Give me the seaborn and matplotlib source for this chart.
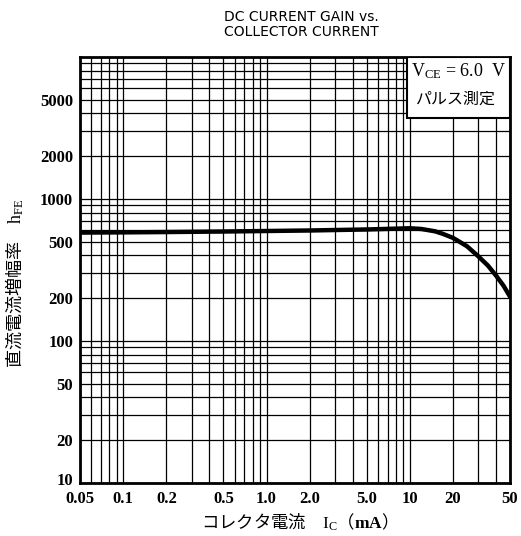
import numpy as np
import pandas as pd
import matplotlib
matplotlib.use('Agg')
import matplotlib.pyplot as plt
import matplotlib.transforms as mtrans
import seaborn as sns
from matplotlib.patches import Rectangle
from matplotlib.ticker import LogLocator, NullFormatter

# data
ic_ma = [0.05, 0.1, 0.2, 0.5, 1.0, 2.0, 5.0, 10, 12, 15, 17, 20, 25, 30, 35, 40, 45, 50]
hfe = [580, 582, 585, 590, 595, 600, 610, 622, 615, 592, 568, 532, 465, 395, 340, 288, 245, 205]

xtick_vals = [0.05, 0.1, 0.2, 0.5, 1.0, 2.0, 5.0, 10, 20, 50]
xtick_text = ['0.05', '0.1', '0.2', '0.5', '1.0', '2.0', '5.0', '10', '20', '50']
ytick_vals = [10, 20, 50, 100, 200, 500, 1000, 2000, 5000]
ytick_text = ['10', '20', '50', '100', '200', '500', '1000', '2000', '5000']

df = pd.DataFrame({'ic': ic_ma, 'hfe': hfe})

sns.set_style('white')
plt.rcParams['font.family'] = ['Noto Sans CJK JP', 'DejaVu Sans']
plt.rcParams['text.color'] = 'black'
plt.rcParams['axes.labelcolor'] = 'black'
plt.rcParams['xtick.color'] = 'black'
plt.rcParams['ytick.color'] = 'black'
plt.rcParams['mathtext.fontset'] = 'custom'
plt.rcParams['mathtext.rm'] = 'Liberation Serif'
plt.rcParams['mathtext.it'] = 'Liberation Serif:italic'
plt.rcParams['mathtext.bf'] = 'Liberation Serif:bold'

fig = plt.figure(figsize=(5.21, 5.36), dpi=100)
ax = fig.add_axes([0.1536, 0.0989, 0.8254, 0.7948])

sns.lineplot(data=df, x='ic', y='hfe', color='black', linewidth=3.2, ax=ax, zorder=5)

ax.set_xscale('log')
ax.set_yscale('log')
ax.set_xlim(0.05, 50)
ax.set_ylim(10, 10000)

ax.xaxis.set_minor_locator(LogLocator(base=10, subs=np.arange(2, 10)))
ax.yaxis.set_minor_locator(LogLocator(base=10, subs=np.arange(2, 10)))
ax.xaxis.set_minor_formatter(NullFormatter())
ax.yaxis.set_minor_formatter(NullFormatter())
ax.grid(which='both', color='black', linewidth=0.9)

ax.set_xticks(xtick_vals)
ax.set_xticklabels(xtick_text, family='Liberation Serif', fontweight='bold', fontsize=12)
ax.set_yticks(ytick_vals)
ax.set_yticklabels(ytick_text, family='Liberation Serif', fontweight='bold', fontsize=12)
ax.tick_params(axis='y', which='both', length=0, pad=5)
ax.tick_params(axis='x', which='both', length=0, pad=6)
# nudge the corner label "10" up a few pixels, like the reference
lab10 = ax.get_yticklabels()[0]
lab10.set_transform(lab10.get_transform() + mtrans.ScaledTranslation(0, 3 / 72, fig.dpi_scale_trans))

for sp in ax.spines.values():
    sp.set_visible(True)
    sp.set_color('black')
    sp.set_linewidth(2)

ax.set_xlabel('コレクタ電流　$\\mathrm{I_C}$（$\\mathbf{mA}$）', fontsize=12.5)
ax.xaxis.set_label_coords(0.5, -0.068)
ax.set_ylabel('直流電流増幅率　$\\mathrm{h_{FE}}$', fontsize=13)
ax.yaxis.set_label_coords(-0.125, 0.47)

# conditions box in the upper right corner
box = Rectangle((0.76, 0.857), 0.24, 0.143, transform=ax.transAxes,
                facecolor='white', edgecolor='black', linewidth=1.5, zorder=6)
ax.add_patch(box)
ax.text(0.88, 0.966, '$\\mathrm{V_{CE}}$ = 6.0  V', transform=ax.transAxes,
        ha='center', va='center', family='Liberation Serif', fontsize=13, zorder=7)
ax.text(0.875, 0.902, 'パルス測定', transform=ax.transAxes,
        ha='center', va='center', fontsize=11.5, zorder=7)

fig.text(0.578, 0.955, 'DC CURRENT GAIN vs.\nCOLLECTOR CURRENT', ha='center', va='center',
         family='DejaVu Sans', fontsize=10, linespacing=1.1)

fig.savefig('out.png', dpi=100)
